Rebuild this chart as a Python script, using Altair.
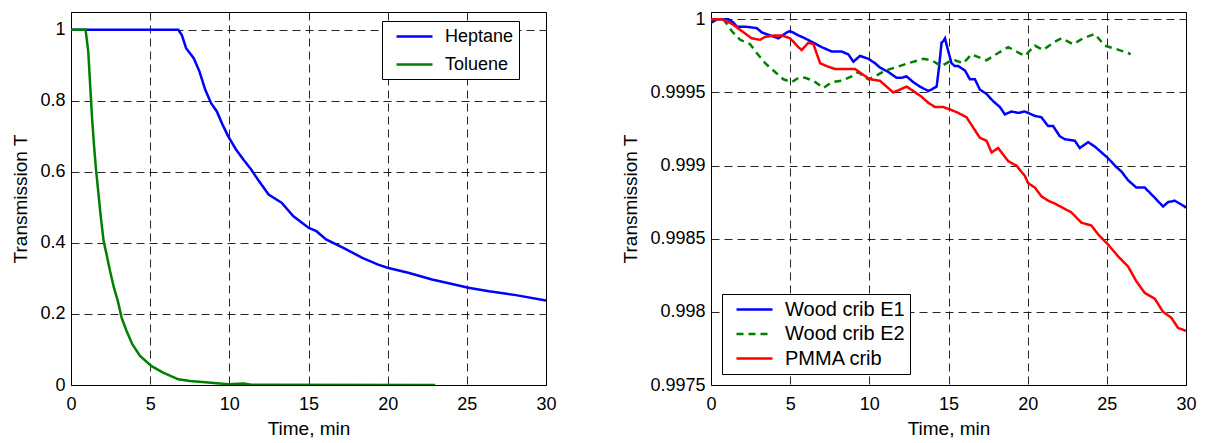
import altair as alt
import pandas as pd

# ---- Liquid pool fires: transmission vs time ----
heptane_t = [0, 6.78, 7.0, 7.27, 7.75, 8.11, 8.48, 8.84, 9.21, 9.57, 9.93, 10.42, 10.9,
             11.39, 11.87, 12.48, 13.3, 14.05, 15.02, 15.5, 16.11, 17.2, 18.4, 19.4,
             19.99, 21.3, 22.8, 24.0, 25.1, 26.4, 28.1, 30]
heptane_T = [1, 1, 0.985, 0.948, 0.92, 0.883, 0.831, 0.794, 0.77, 0.733, 0.70, 0.663, 0.634,
             0.606, 0.574, 0.536, 0.513, 0.475, 0.442, 0.433, 0.41, 0.386, 0.358, 0.339,
             0.33, 0.316, 0.297, 0.285, 0.274, 0.264, 0.253, 0.238]

toluene_t = [0, 0.92, 1.09, 1.21, 1.33, 1.45, 1.57, 1.74, 1.89, 2.06, 2.25, 2.47, 2.71,
             2.96, 3.2, 3.51, 3.88, 4.36, 5.09, 5.82, 6.78, 7.51, 8.48, 9.93, 10.9, 11.39, 23.0]
toluene_T = [1, 1, 0.939, 0.845, 0.752, 0.677, 0.611, 0.536, 0.47, 0.405, 0.367, 0.32, 0.274,
             0.236, 0.189, 0.152, 0.114, 0.082, 0.053, 0.035, 0.016, 0.011, 0.008, 0.002,
             0.004, 0.001, 0.0]

# ---- Solid cribs: transmission vs time ----
e1_t = [0.0, 0.05, 0.4, 1.1, 1.4, 1.63, 2.16, 2.89, 3.21, 3.73, 4.26, 4.78, 5.0, 5.52, 5.94,
        6.47, 6.99, 7.62, 8.25, 8.68, 8.99, 9.41, 9.94, 10.36, 10.67, 11.2, 11.72, 12.04,
        12.35, 12.78, 13.2, 13.72, 13.93, 14.25, 14.4, 14.56, 14.67, 14.78, 14.94, 15.19,
        15.4, 15.62, 16.04, 16.35, 16.67, 16.98, 17.4, 17.82, 18.25, 18.56, 18.98, 19.4,
        19.82, 20.45, 20.87, 21.29, 21.61, 22.03, 22.35, 22.98, 23.29, 23.82, 24.24, 24.56,
        25.08, 25.6, 25.92, 26.34, 26.86, 27.39, 28.03, 28.55, 28.86, 29.29, 29.92, 30.0]
e1_T = [1.0, 0.99998, 1.0, 1.0, 0.99998, 0.99995, 0.99995, 0.99994, 0.99991, 0.99989, 0.99987,
        0.99991, 0.99992, 0.99989, 0.99987, 0.99984, 0.99981, 0.99978, 0.99978, 0.99976,
        0.99971, 0.99975, 0.99973, 0.9997, 0.99967, 0.99964, 0.9996, 0.9996, 0.99961,
        0.99957, 0.99954, 0.99951, 0.99952, 0.99954, 0.99967, 0.99984, 0.99985, 0.99987,
        0.9998, 0.9997, 0.99968, 0.99968, 0.99965, 0.99959, 0.99959, 0.99952, 0.99949,
        0.99944, 0.9994, 0.99935, 0.99937, 0.99936, 0.99937, 0.99934, 0.99933, 0.99927,
        0.99927, 0.9992, 0.99918, 0.99917, 0.99912, 0.99916, 0.99913, 0.9991, 0.99905,
        0.99899, 0.99896, 0.9989, 0.99885, 0.99885, 0.99878, 0.99872, 0.99875, 0.99876,
        0.99872, 0.99871]

e2_t = [0.0, 0.3, 0.79, 1.31, 1.84, 2.47, 2.89, 3.42, 3.94, 4.57, 5.1, 5.52, 5.94, 6.47, 7.1,
        7.62, 8.25, 8.88, 9.31, 9.62, 9.94, 10.36, 10.99, 11.62, 12.46, 13.41, 13.93, 14.56,
        15.19, 15.4, 15.93, 16.45, 17.4, 18.14, 18.77, 19.29, 19.82, 20.45, 20.98, 21.61,
        22.13, 22.87, 23.5, 24.24, 24.87, 25.5, 26.34, 26.5]
e2_T = [1.0, 1.0, 1.0, 0.99992, 0.99986, 0.99983, 0.99977, 0.9997, 0.99965, 0.99959, 0.99957,
        0.9996, 0.9996, 0.99958, 0.99953, 0.99957, 0.99958, 0.99961, 0.99964, 0.99961,
        0.99959, 0.99961, 0.99965, 0.99967, 0.9997, 0.99973, 0.99972, 0.99968, 0.99972,
        0.99972, 0.9997, 0.99976, 0.99972, 0.99977, 0.99981, 0.99978, 0.99975, 0.99982,
        0.99979, 0.99984, 0.99987, 0.99983, 0.99987, 0.9999, 0.99982, 0.9998, 0.99977, 0.99976]

pmma_t = [0.0, 0.68, 1.31, 1.94, 2.57, 3.1, 3.42, 4.05, 4.47, 5.0, 5.52, 5.73, 6.15, 6.47,
          6.89, 7.31, 7.84, 8.47, 9.1, 9.62, 10.04, 10.67, 11.09, 11.51, 11.94, 12.35, 12.78,
          13.3, 13.72, 14.15, 14.67, 15.19, 15.62, 16.14, 16.56, 16.98, 17.4, 17.72, 18.14,
          18.77, 19.29, 19.82, 20.03, 20.45, 20.87, 21.29, 21.72, 22.24, 22.76, 23.39, 24.03,
          24.45, 25.08, 25.71, 26.34, 26.86, 27.39, 28.03, 28.55, 29.07, 29.5, 30.0]
pmma_T = [1.0, 1.0, 0.99997, 0.99992, 0.99987, 0.99986, 0.99988, 0.99989, 0.99989, 0.99987,
          0.99981, 0.99979, 0.99984, 0.99983, 0.9997, 0.99968, 0.99966, 0.99966, 0.99966,
          0.99962, 0.99959, 0.99958, 0.99954, 0.9995, 0.99952, 0.99954, 0.99951, 0.99947,
          0.99943, 0.9994, 0.9994, 0.99938, 0.99936, 0.99933, 0.99926, 0.99919, 0.99917,
          0.99909, 0.99912, 0.99903, 0.999, 0.99893, 0.99888, 0.99885, 0.99879, 0.99876,
          0.99874, 0.99871, 0.99868, 0.99861, 0.99859, 0.99853, 0.99846, 0.99838, 0.99831,
          0.99821, 0.99813, 0.99809, 0.998, 0.99796, 0.99789, 0.99787]

left_names = ["Heptane", "Toluene"]
left_colors = ["#0000ff", "#008000"]
right_names = ["Wood crib E1", "Wood crib E2", "PMMA crib"]
right_colors = ["#0000ff", "#008000", "#ff0000"]
right_dashes = [[1, 0], [7, 5], [1, 0]]

x_ticks = [0, 5, 10, 15, 20, 25, 30]
left_y_ticks = [0, 0.2, 0.4, 0.6, 0.8, 1]
right_y_ticks = [0.9975, 0.998, 0.9985, 0.999, 0.9995, 1]


def frame(names, ts, vals):
    parts = []
    for n, t, v in zip(names, ts, vals):
        parts.append(pd.DataFrame({"series": n, "t": t, "T": v}))
    return pd.concat(parts, ignore_index=True)


left_df = frame(left_names, [heptane_t, toluene_t], [heptane_T, toluene_T])
right_df = frame(right_names, [e1_t, e2_t, pmma_t], [e1_T, e2_T, pmma_T])

FONT = "Liberation Sans"
W, H = 475, 373


def x_enc():
    return alt.X("t:Q", scale=alt.Scale(domain=[0, 30], nice=False),
                 axis=alt.Axis(values=x_ticks, title="Time, min", format="d"))


def legend(x, y, font_size, row_pad):
    # boxed legend with a long horizontal stroke as the symbol
    return alt.Legend(orient="none", legendX=x, legendY=y, title=None,
                      symbolType="M-2,0H2", symbolSize=324, symbolStrokeWidth=2.6,
                      symbolOffset=17,
                      labelFont=FONT, labelFontSize=font_size, labelColor="#000",
                      labelOffset=20, padding=5, rowPadding=row_pad,
                      strokeColor="#000", fillColor="#fff")


left = alt.Chart(left_df).mark_line(strokeWidth=2.5, clip=True).encode(
    x=x_enc(),
    y=alt.Y("T:Q", scale=alt.Scale(domain=[0, 1.05], nice=False, zero=False),
            axis=alt.Axis(values=left_y_ticks, title="Transmission T", format="~g")),
    color=alt.Color("series:N", scale=alt.Scale(domain=left_names, range=left_colors),
                    legend=legend(311, 9, 18, 8)),
).properties(width=W, height=H)

right_legend = legend(11, 282, 20, 3.5)
right = alt.Chart(right_df).mark_line(strokeWidth=2.5, clip=True).encode(
    x=x_enc(),
    y=alt.Y("T:Q", scale=alt.Scale(domain=[0.9975, 1.00005], nice=False, zero=False),
            axis=alt.Axis(values=right_y_ticks, title="Transmission T", format="~g")),
    color=alt.Color("series:N", scale=alt.Scale(domain=right_names, range=right_colors),
                    legend=right_legend),
    strokeDash=alt.StrokeDash("series:N",
                              scale=alt.Scale(domain=right_names, range=right_dashes),
                              legend=right_legend),
).properties(width=W, height=H)

chart = alt.hconcat(left, right, spacing=165, bounds="flush").resolve_scale(
    color="independent", strokeDash="independent"
).resolve_legend(
    color="independent", strokeDash="independent"
).properties(
    padding={"left": 11, "top": 9, "right": 5, "bottom": 5},
    background="#ffffff",
).configure_view(
    stroke="#000", strokeWidth=1
).configure_axis(
    grid=True, gridColor="#000", gridDash=[8, 5], gridWidth=1, gridOpacity=0.85,
    ticks=False, domain=False, labelFlush=False,
    labelFont=FONT, labelFontSize=18, labelColor="#000",
    titleFont=FONT, titleFontSize=19, titleFontWeight="normal", titleColor="#000",
).configure_axisX(
    labelPadding=10, titlePadding=6
).configure_axisY(
    labelPadding=6, titlePadding=9
)

chart.save("out.html", embed_options={"renderer": "svg", "actions": False})
